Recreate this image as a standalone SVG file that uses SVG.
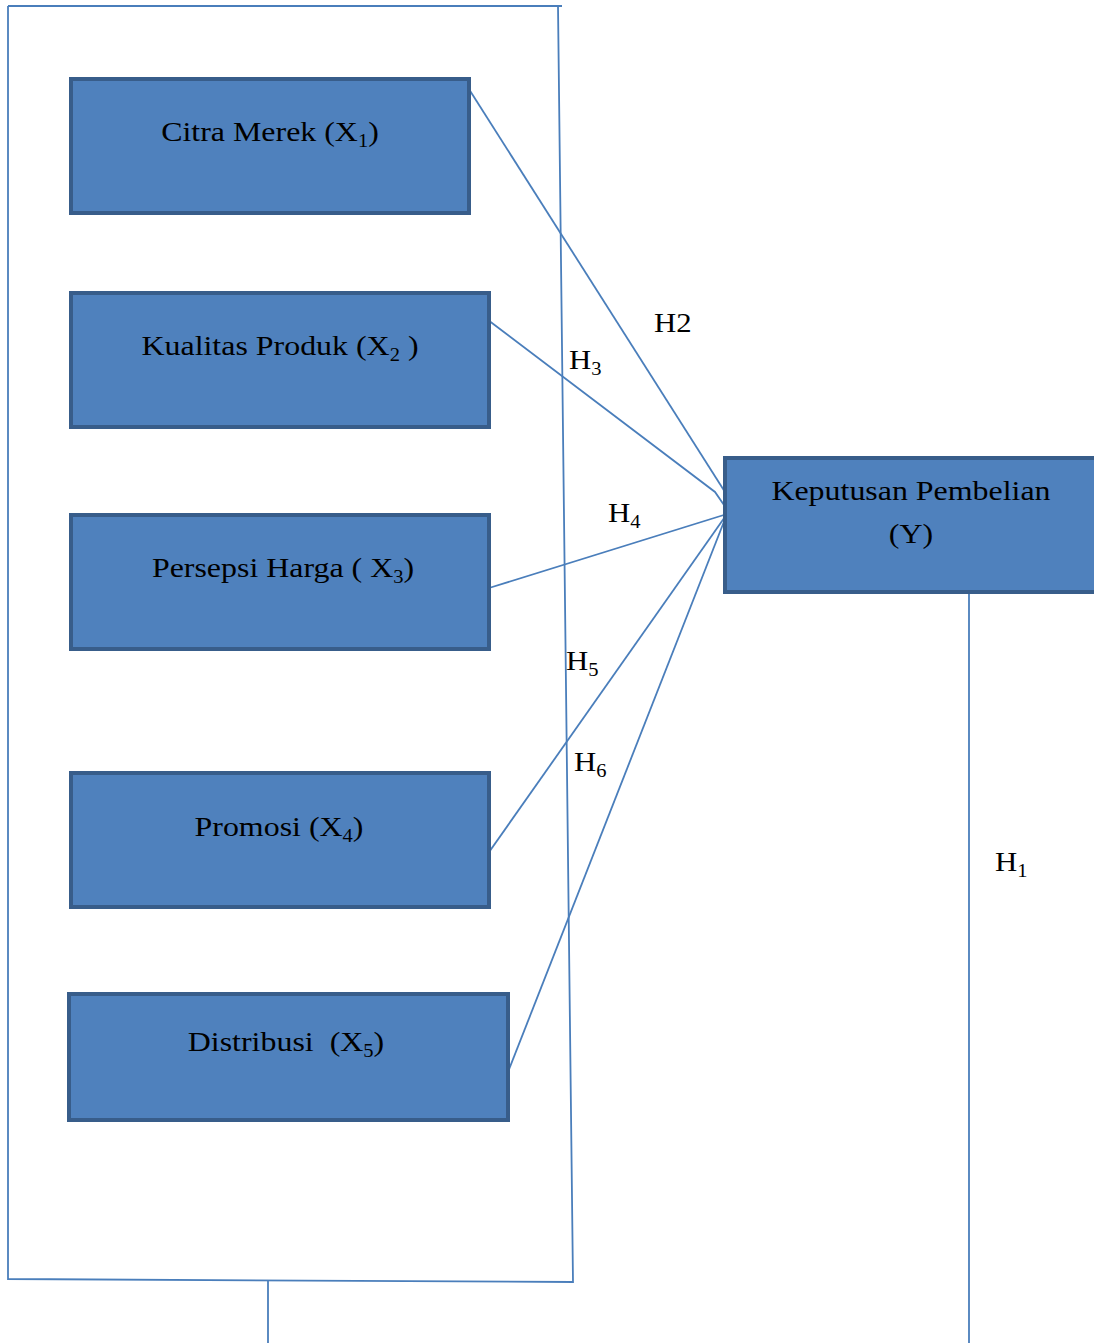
<svg xmlns="http://www.w3.org/2000/svg" width="1094" height="1343" viewBox="0 0 1094 1343">
<style>
.box{fill:#4F81BD;stroke:#385D8A;stroke-width:4}
.ln{stroke:#4A7EBB;stroke-width:1.8;fill:none}
.t{font-family:"Liberation Serif","Times New Roman",serif;font-size:28px;fill:#000;text-anchor:middle}
.h{font-family:"Liberation Serif","Times New Roman",serif;font-size:27px;fill:#000}
.s{font-size:18px}
</style>
<rect width="1094" height="1343" fill="#fff"/>
<g id="frame">
<path class="ln" d="M8,6 L562,6 M558,6 L573,1282 L8,1279 L8,6"/>
<path class="ln" d="M268,1281 L268,1343"/>
</g>
<g id="connectors">
<path class="ln" d="M467,86 L725,492"/>
<path class="ln" d="M488,320 L715,492 L724,505"/>
<path class="ln" d="M489,588 L727,514"/>
<path class="ln" d="M487,855 L727,514"/>
<path class="ln" d="M508,1072 L727,514"/>
<path class="ln" d="M969,592 L969,1343"/>
</g>
<g id="labels">
<text class="h" transform="translate(654,332) scale(1.14,1)">H2</text>
<text class="h" transform="translate(569,369) scale(1.14,1)">H<tspan class="s" dy="6">3</tspan></text>
<text class="h" transform="translate(608,522) scale(1.14,1)">H<tspan class="s" dy="6">4</tspan></text>
<text class="h" transform="translate(566,670) scale(1.14,1)">H<tspan class="s" dy="6">5</tspan></text>
<text class="h" transform="translate(574,771) scale(1.14,1)">H<tspan class="s" dy="6">6</tspan></text>
<text class="h" transform="translate(995,871) scale(1.14,1)">H<tspan class="s" dy="6">1</tspan></text>
</g>
<g id="x1">
<rect class="box" x="71" y="79" width="398" height="134"/>
<text class="t" transform="translate(270,141) scale(1.14,1)">Citra Merek (X<tspan class="s" dy="6">1</tspan><tspan dy="-6">)</tspan></text>
</g>
<g id="x2">
<rect class="box" x="71" y="293" width="418" height="134"/>
<text class="t" transform="translate(280,355) scale(1.14,1)">Kualitas Produk (X<tspan class="s" dy="6">2</tspan><tspan dy="-6"> )</tspan></text>
</g>
<g id="x3">
<rect class="box" x="71" y="515" width="418" height="134"/>
<text class="t" transform="translate(283,577) scale(1.14,1)">Persepsi Harga ( X<tspan class="s" dy="6">3</tspan><tspan dy="-6">)</tspan></text>
</g>
<g id="x4">
<rect class="box" x="71" y="773" width="418" height="134"/>
<text class="t" transform="translate(279,836) scale(1.14,1)">Promosi (X<tspan class="s" dy="6">4</tspan><tspan dy="-6">)</tspan></text>
</g>
<g id="x5">
<rect class="box" x="69" y="994" width="439" height="126"/>
<text class="t" transform="translate(286,1051) scale(1.14,1)" xml:space="preserve">Distribusi  (X<tspan class="s" dy="6">5</tspan><tspan dy="-6">)</tspan></text>
</g>
<g id="y">
<rect class="box" x="725" y="458" width="375" height="134"/>
<text class="t" transform="translate(911,500) scale(1.14,1)">Keputusan Pembelian</text>
<text class="t" transform="translate(911,543) scale(1.14,1)">(Y)</text>
</g>
</svg>
